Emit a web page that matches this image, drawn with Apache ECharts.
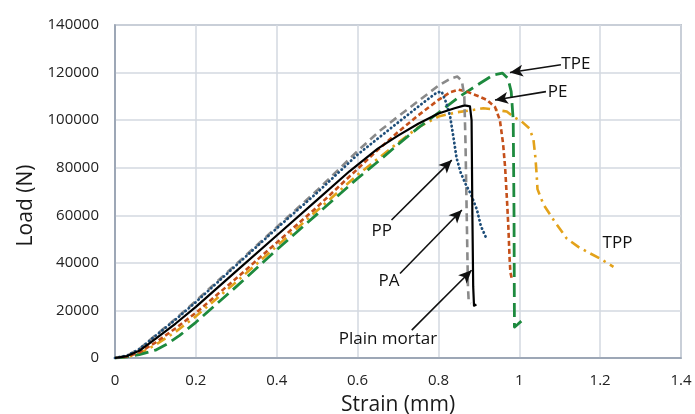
<!DOCTYPE html>
<html>
<head>
<meta charset="utf-8">
<script src="https://cdn.jsdelivr.net/npm/echarts@6/dist/echarts.min.js"></script>
<style>
html,body{margin:0;padding:0;background:#fff;}
#chart{width:695px;height:414px;}
</style>
</head>
<body>
<div id="chart"></div>
<script>
// ---- data (strain in mm, load in N) ----
const xTicks = [0, 0.2, 0.4, 0.6, 0.8, 1, 1.2, 1.4];
const yTicks = [0, 20000, 40000, 60000, 80000, 100000, 120000, 140000];

const plainX = [0, 0.03, 0.06, 0.1, 0.15, 0.2, 0.3, 0.4, 0.5, 0.58, 0.65, 0.7, 0.75, 0.8, 0.84, 0.865, 0.878, 0.882, 0.884, 0.886, 0.888, 0.894];
const plainY = [0, 800, 3000, 8000, 14500, 21500, 36500, 51500, 66500, 78500, 88000, 93500, 98500, 102800, 105000, 106200, 105800, 100000, 60000, 30000, 22000, 22500];

const paX = [0, 0.03, 0.06, 0.1, 0.15, 0.2, 0.3, 0.4, 0.5, 0.6, 0.655, 0.7, 0.75, 0.8, 0.83, 0.847, 0.858, 0.864, 0.867, 0.87, 0.873, 0.875, 0.88];
const paY = [0, 1000, 3800, 9500, 16500, 24000, 39500, 55000, 70500, 87000, 95500, 101500, 108000, 114500, 117500, 118300, 116500, 110000, 90000, 60000, 30000, 23500, 23000];

const ppX = [0, 0.03, 0.06, 0.1, 0.15, 0.2, 0.3, 0.4, 0.5, 0.6, 0.7, 0.76, 0.795, 0.808, 0.82, 0.829, 0.837, 0.845, 0.855, 0.866, 0.88, 0.895, 0.905, 0.918];
const ppY = [0, 1000, 3700, 9300, 16200, 23500, 39000, 54500, 69500, 85500, 99000, 107000, 111500, 112000, 107000, 101500, 93000, 84000, 78000, 73500, 69000, 62500, 55500, 50500];

const peX = [0, 0.03, 0.06, 0.1, 0.15, 0.2, 0.3, 0.4, 0.5, 0.6, 0.65, 0.7, 0.75, 0.8, 0.83, 0.85, 0.87, 0.9, 0.92, 0.94, 0.952, 0.96, 0.965, 0.97, 0.973, 0.976, 0.978, 0.982];
const peY = [0, 600, 2300, 6500, 12500, 19000, 33500, 48500, 63500, 79500, 87500, 95000, 102000, 108500, 111800, 112800, 112000, 110000, 108500, 105500, 100000, 90000, 80000, 65000, 55000, 42000, 36000, 33000];

const tppX = [0, 0.03, 0.06, 0.1, 0.15, 0.2, 0.3, 0.4, 0.5, 0.6, 0.7, 0.75, 0.8, 0.845, 0.886, 0.911, 0.936, 0.969, 0.985, 1.006, 1.025, 1.035, 1.04, 1.043, 1.045, 1.06, 1.085, 1.117, 1.146, 1.175, 1.2, 1.233];
const tppY = [0, 500, 1800, 5500, 11000, 17500, 32000, 47000, 62000, 77000, 90500, 97000, 101500, 103300, 104300, 105000, 104500, 103600, 101500, 99400, 96500, 92000, 84000, 77000, 71000, 64500, 58000, 50300, 46700, 44000, 41800, 38300];

const tpeX = [0, 0.03, 0.06, 0.1, 0.13, 0.16, 0.2, 0.3, 0.4, 0.5, 0.6, 0.655, 0.7, 0.754, 0.804, 0.853, 0.903, 0.936, 0.958, 0.972, 0.98, 0.985, 0.987, 0.988, 0.995, 1.005];
const tpeY = [0, 500, 1400, 3300, 6000, 9500, 15000, 30000, 45500, 60500, 75500, 83200, 89800, 97300, 103600, 110000, 115500, 119000, 119800, 117500, 112000, 100000, 60000, 13000, 14000, 15500];

// annotation labels (centre of text, data coordinates)
const labelNames = ['TPE', 'PE', 'PP', 'PA', 'Plain mortar', 'TPP'];
const labelX = [1.14, 1.095, 0.66, 0.678, 0.675, 1.243];
const labelY = [123700, 111700, 53400, 32300, 7900, 48200];
// arrows: start -> end (data coordinates)
const arrowFromX = [1.103, 1.066, 0.684, 0.705, 0.734];
const arrowFromY = [123300, 112000, 58000, 35500, 11700];
const arrowToX = [0.977, 0.94, 0.833, 0.858, 0.882];
const arrowToY = [120000, 108500, 83200, 62200, 36900];

const zip = (xs, ys) => xs.map((x, i) => [x, ys[i]]);

const chart = echarts.init(document.getElementById('chart'), null, {renderer: 'canvas'});

const font = 'Open Sans';
function lineSeries(name, xs, ys, color, dash, width, cap) {
  return {
    name, type: 'line', data: zip(xs, ys), showSymbol: false, symbol: 'none',
    smooth: false,
    lineStyle: {color, width: width || 2.6, type: dash, cap: cap || 'butt', join: 'round'},
    z: 3
  };
}

const option = {
  animation: false,
  backgroundColor: '#fff',
  grid: {left: 115, right: 14, top: 25, bottom: 56, containLabel: false, outerBoundsMode: 'none',
         show: true, borderColor: '#8e9aab', borderWidth: 1.5},
  xAxis: {
    type: 'value', min: 0, max: 1.4, interval: 0.2,
    name: 'Strain (mm)', nameLocation: 'middle', nameGap: 37,
    nameTextStyle: {fontFamily: font, fontSize: 21, color: '#1a1a1a'},
    axisLine: {show: true, lineStyle: {color: '#8e9aab', width: 1.5}},
    axisTick: {show: false},
    axisLabel: {fontFamily: font, fontSize: 15, color: '#222', margin: 15, formatter: v => String(+v.toFixed(1))},
    splitLine: {show: true, lineStyle: {color: '#d3d9e1', width: 1.5}}
  },
  yAxis: {
    type: 'value', min: 0, max: 140000, interval: 20000,
    name: 'Load (N)', nameLocation: 'middle', nameGap: 73, nameRotate: 90,
    nameTextStyle: {fontFamily: font, fontSize: 21, color: '#1a1a1a', padding: [0, 28, 0, 0]},
    axisLine: {show: true, lineStyle: {color: '#8e9aab', width: 1.5}},
    axisTick: {show: false},
    axisLabel: {fontFamily: font, fontSize: 15, color: '#222', margin: 16, formatter: v => String(v)},
    splitLine: {show: true, lineStyle: {color: '#d3d9e1', width: 1.5}}
  },
  series: [
    lineSeries('TPP', tppX, tppY, '#e3a21a', [10, 5, 2.5, 5], 2.6),
    lineSeries('TPE', tpeX, tpeY, '#1d8a3e', [14, 6], 2.8),
    lineSeries('PE', peX, peY, '#c5501a', [5, 3], 2.6),
    lineSeries('PA', paX, paY, '#8a8a8a', [8, 5], 2.6),
    lineSeries('PP', ppX, ppY, '#1f4e79', [0.3, 4], 2.8, 'round'),
    lineSeries('Plain mortar', plainX, plainY, '#000000', 'solid', 2.2),
    {
      name: 'labels', type: 'scatter', symbolSize: 1,
      itemStyle: {color: 'rgba(0,0,0,0)', opacity: 1},
      data: labelNames.map((t, i) => ({value: [labelX[i], labelY[i]], name: t})),
      label: {show: true, position: 'inside', formatter: p => p.name, fontFamily: font, fontSize: 17, color: '#111', textBorderWidth: 0, opacity: 1},
      z: 5, silent: true,
      markLine: {
        silent: true, symbol: ['none', 'arrow'], symbolSize: [9, 13],
        lineStyle: {color: '#111', width: 1.6, type: 'solid', opacity: 1},
        label: {show: false},
        data: arrowFromX.map((x, i) => [{coord: [x, arrowFromY[i]]}, {coord: [arrowToX[i], arrowToY[i]]}])
      }
    }
  ]
};
chart.setOption(option);
</script>
</body>
</html>
